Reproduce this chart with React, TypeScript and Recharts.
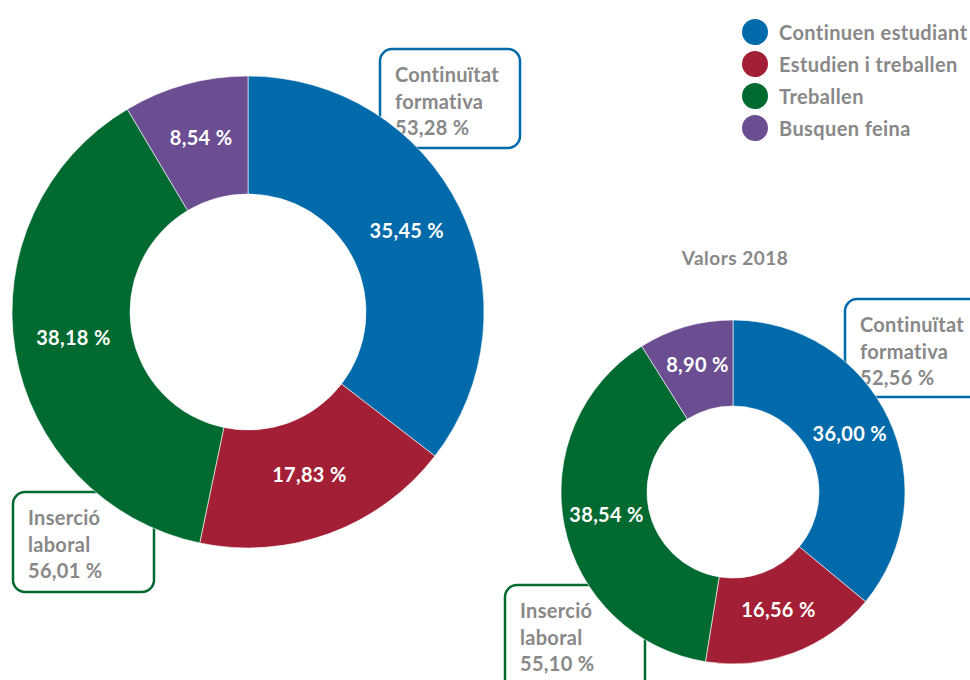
import { PieChart, Pie, Cell, Legend, Customized } from "recharts";

const categories = [
  "Continuen estudiant",
  "Estudien i treballen",
  "Treballen",
  "Busquen feina",
];
const valuesMain = [35.45, 17.83, 38.18, 8.54];
const values2018 = [36.0, 16.56, 38.54, 8.9];
const title2018 = "Valors 2018";
const groupLabels = [["Continuïtat", "formativa"], ["Inserció", "laboral"]];

const COLORS = ["#006AAB", "#A31F35", "#006A31", "#6B4D92"];
const GRAY = "#888888";
const FONT = "Lato, 'Open Sans', sans-serif";

const fmt = (v: number) => v.toFixed(2).replace(".", ",") + " %";

const mainData = categories.map((name, i) => ({ name, value: valuesMain[i] }));
const data2018 = categories.map((name, i) => ({ name, value: values2018[i] }));

// continuïtat = continuen + estudien i treballen; inserció = treballen + estudien i treballen
const groupTotals = (v: number[]) => [v[0] + v[1], v[2] + v[1]];

function SliceLabel(props: any) {
  const { cx, cy, midAngle, innerRadius, outerRadius, value } = props;
  const r = (innerRadius + outerRadius) / 2;
  const rad = (Math.PI / 180) * midAngle;
  const x = cx + r * Math.cos(rad);
  const y = cy - r * Math.sin(rad) - 4;
  return (
    <text
      x={x}
      y={y}
      fill="#fff"
      textAnchor="middle"
      dominantBaseline="central"
      fontSize={20}
      fontWeight={700}
      letterSpacing={0.3}
      fontFamily={FONT}
    >
      {fmt(value)}
    </text>
  );
}

function LegendContent() {
  return (
    <div style={{ fontFamily: FONT }}>
      {categories.map((c, i) => (
        <div
          key={c}
          style={{ display: "flex", alignItems: "center", height: 32 }}
        >
          <svg width={26} height={26} style={{ marginRight: 11 }}>
            <circle cx={13} cy={13} r={13} fill={COLORS[i]} />
          </svg>
          <span
            style={{
              color: GRAY,
              fontSize: 20,
              fontWeight: 700,
              letterSpacing: 0.4,
              whiteSpace: "nowrap",
            }}
          >
            {c}
          </span>
        </div>
      ))}
    </div>
  );
}

const boxes = [
  { x: 380, y: 49, w: 140, h: 99, color: COLORS[0], lines: groupLabels[0], total: groupTotals(valuesMain)[0] },
  { x: 13, y: 492, w: 141, h: 100, color: COLORS[2], lines: groupLabels[1], total: groupTotals(valuesMain)[1] },
  { x: 845, y: 299, w: 140, h: 98, color: COLORS[0], lines: groupLabels[0], total: groupTotals(values2018)[0] },
  { x: 505, y: 585, w: 140, h: 110, color: COLORS[2], lines: groupLabels[1], total: groupTotals(values2018)[1] },
];

function Annotations() {
  return (
    <g fontFamily={FONT} fontWeight={700} fill={GRAY}>
      <text x={735} y={257} textAnchor="middle" dominantBaseline="central" fontSize={19} letterSpacing={0.5}>
        {title2018}
      </text>
      {boxes.map((b, i) => (
        <g key={i}>
          <rect
            x={b.x}
            y={b.y}
            width={b.w}
            height={b.h}
            rx={12}
            ry={12}
            fill="#fff"
            stroke={b.color}
            strokeWidth={2.5}
          />
          {[...b.lines, fmt(b.total)].map((t, j) => (
            <text
              key={j}
              x={b.x + 15}
              y={b.y + 25 + j * 26.5}
              dominantBaseline="central"
              fontSize={20}
              letterSpacing={0.3}
            >
              {t}
            </text>
          ))}
        </g>
      ))}
    </g>
  );
}

export default function App() {
  return (
    <div style={{ position: "absolute", left: 0, top: 0, width: 970, height: 680 }}>
      <PieChart width={970} height={680} margin={{ top: 0, right: 0, bottom: 0, left: 0 }}>
        <Pie
          data={mainData}
          dataKey="value"
          cx={248}
          cy={312}
          innerRadius={118}
          outerRadius={236}
          startAngle={90}
          endAngle={-270}
          stroke="#fff"
          strokeWidth={0.6}
          label={SliceLabel}
          labelLine={false}
          isAnimationActive={false}
        >
          {mainData.map((d, i) => (
            <Cell key={d.name} fill={COLORS[i]} />
          ))}
        </Pie>
        <Pie
          data={data2018}
          dataKey="value"
          cx={733}
          cy={492}
          innerRadius={86}
          outerRadius={172}
          startAngle={90}
          endAngle={-270}
          stroke="#fff"
          strokeWidth={0.6}
          label={SliceLabel}
          labelLine={false}
          isAnimationActive={false}
        >
          {data2018.map((d, i) => (
            <Cell key={d.name} fill={COLORS[i]} />
          ))}
        </Pie>
        <Customized component={Annotations} />
        <Legend
          content={LegendContent}
          layout="vertical"
          verticalAlign="top"
          align="right"
          wrapperStyle={{ position: "absolute", left: 742, top: 16, width: 240 }}
        />
      </PieChart>
    </div>
  );
}
